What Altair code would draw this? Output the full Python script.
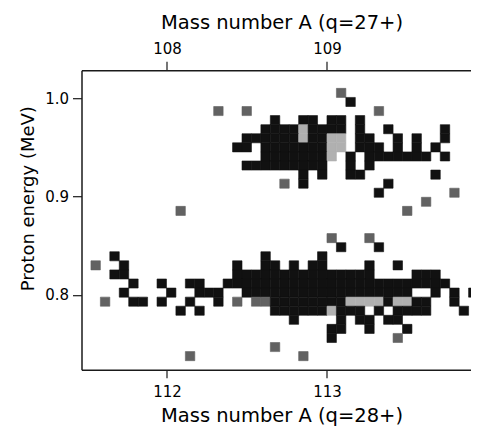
import altair as alt
import pandas as pd

# ---- histogram definition (mass / energy bins) ----
MASS_BIN_START = 111.525      # left edge of column 0 (A, q=28+)
MASS_BIN_WIDTH = 0.059
ENERGY_BIN_TOP = 0.99166      # upper edge of row 0 (MeV)
ENERGY_BIN_HEIGHT = 0.009237

MASS_DOMAIN = [111.466, 113.900]
ENERGY_DOMAIN = [0.72375, 1.0286]

BOTTOM_TICKS = [112, 113]
LEFT_TICKS = [0.8, 0.9, 1.0]
TOP_OFFSET = 4   # q=27+ scale labels: A(28+) - 4

# counts: row index -> "columns + level"
# level: '#' many counts (black), '+' single count (grey), '.' peak (light)
ROW_SPECS = [
    (-2, "26+"),
    (-1, "27#"),
    (0, "13+ 16+ 30+"),
    (1, "19# 22-23# 25-26# 28#"),
    (2, "18-21# 22. 23-26# 28# 31# 37#"),
    (3, "16-21# 22. 23-24# 25-26. 28-29# 32# 34# 37#"),
    (4, "15-16# 18-24# 25-26. 28-30# 32# 34# 36#"),
    (5, "18-24# 25. 27# 29-35# 37#"),
    (6, "16-24# 27# 29#"),
    (7, "22# 24# 27-28# 36#"),
    (8, "20+ 22# 31#"),
    (9, "30# 38+"),
    (10, "35+"),
    (11, "9+ 33+"),
    (14, "25+ 29+"),
    (15, "26# 30#"),
    (16, "2# 18# 24#"),
    (17, "0+ 3# 15# 18-19# 21# 23-24# 29# 32#"),
    (18, "2-3# 15-29# 34-36#"),
    (19, "4# 7# 10-11# 14-37#"),
    (20, "3# 8# 11-13# 16-33# 36# 38# 40#"),
    (21, "1+ 4-5# 7# 10# 13# 15+ 17-18+ 19-26# 27-30. 31# 32-33. 34-35# 38#"),
    (22, "9# 11# 19-24# 25. 26-28# 30# 32-35# 39#"),
    (23, "21# 26# 28-29# 31-32#"),
    (24, "25-26# 29# 33#"),
    (25, "25# 32+"),
    (26, "19+"),
    (27, "10+ 22+"),
]

LEVELS = ["#", "+", "."]
LEVEL_COLORS = ["#111111", "#626262", "#b0b0b0"]

records = []
for r, spec in ROW_SPECS:
    for tok in spec.split():
        lvl, rng = tok[-1], tok[:-1]
        if "-" in rng:
            a, b = (int(v) for v in rng.split("-"))
        else:
            a = b = int(rng)
        for k in range(a, b + 1):
            m0 = MASS_BIN_START + k * MASS_BIN_WIDTH
            e1 = ENERGY_BIN_TOP - r * ENERGY_BIN_HEIGHT
            records.append({"m0": m0, "m1": m0 + MASS_BIN_WIDTH,
                            "e0": e1 - ENERGY_BIN_HEIGHT, "e1": e1, "level": lvl})
df = pd.DataFrame(records)

FONT = "DejaVu Sans"
xscale = alt.Scale(domain=MASS_DOMAIN, nice=False, zero=False)
yscale = alt.Scale(domain=ENERGY_DOMAIN, nice=False, zero=False)
lvl_scale = alt.Scale(domain=LEVELS, range=LEVEL_COLORS)

common_axis = dict(grid=False, domainColor="#1a1a1a", domainWidth=1.5,
                   tickColor="#1a1a1a", tickWidth=1.2,
                   labelFont=FONT, labelFontSize=15, labelColor="black",
                   titleFont=FONT, titleFontWeight="normal", titleColor="black")

bottom_axis = alt.Axis(values=BOTTOM_TICKS, format="d", orient="bottom",
                       tickSize=8, labelPadding=7,
                       title="Mass number A  (q=28+)", titleFontSize=19.5,
                       titleX=200, titleY=52, titleAlign="center",
                       titleBaseline="alphabetic", **common_axis)
top_axis = alt.Axis(values=BOTTOM_TICKS, orient="top",
                    labelExpr=f"format(datum.value - {TOP_OFFSET}, 'd')",
                    tickSize=9, labelPadding=5,
                    title="Mass number A  (q=27+)", titleFontSize=19.5,
                    titleX=200, titleY=-42, titleAlign="center",
                    titleBaseline="alphabetic", **common_axis)
left_axis = alt.Axis(values=LEFT_TICKS, format=".1f", orient="left",
                     tickSize=9, labelPadding=4,
                     title="Proton energy  (MeV)", titleFontSize=18,
                     titleAngle=270, titleX=-48.5, titleY=128,
                     titleAlign="center", titleBaseline="alphabetic",
                     **common_axis)

rects = alt.Chart(df).mark_rect(strokeWidth=0.6, clip=True).encode(
    x=alt.X("m0:Q", scale=xscale, axis=bottom_axis),
    x2="m1:Q",
    y=alt.Y("e0:Q", scale=yscale, axis=left_axis),
    y2="e1:Q",
    fill=alt.Fill("level:N", scale=lvl_scale, legend=None),
    stroke=alt.Stroke("level:N", scale=lvl_scale, legend=None),
)

top_layer = alt.Chart(df).mark_point(opacity=0).encode(
    x=alt.X("m0:Q", scale=xscale, axis=top_axis),
)

chart = alt.layer(rects, top_layer).resolve_axis(x="independent").properties(
    width=389.5, height=299.6,
    autosize=alt.AutoSizeParams(type="none"),
    padding={"left": 73.5, "top": 62.2, "right": 0, "bottom": 58},
    background="white",
).configure_view(strokeWidth=0)

chart.save("out.html", embed_options={"renderer": "svg", "actions": False})
